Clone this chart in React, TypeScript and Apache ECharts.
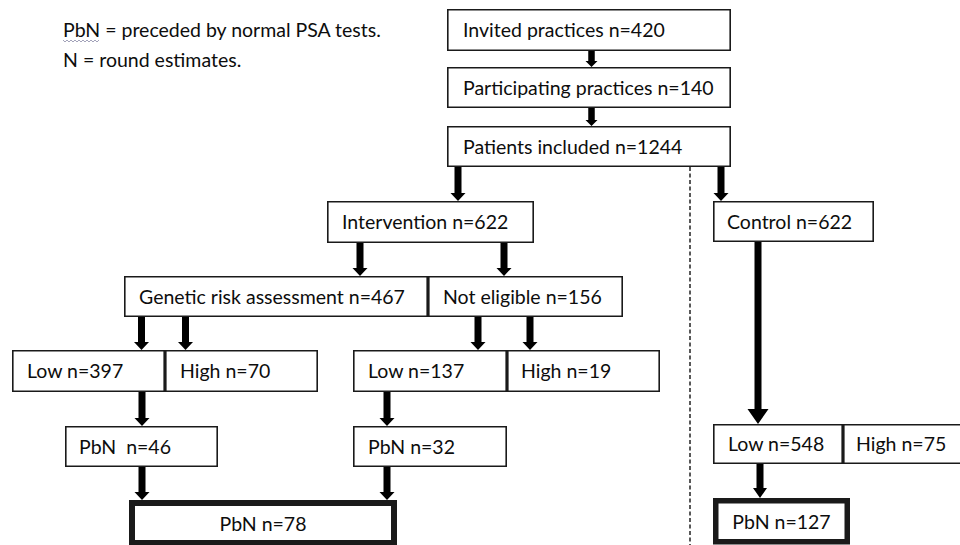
import React, { useEffect, useRef } from "react";
import * as echarts from "echarts";

// ---- data ----
const stageNames = [
  "Invited practices",
  "Participating practices",
  "Patients included",
  "Intervention",
  "Control",
  "Genetic risk assessment",
  "Not eligible",
  "Low",
  "High",
  "Low",
  "High",
  "PbN ",
  "PbN",
  "PbN",
  "Low",
  "High",
  "PbN",
];
const stageCounts = [420, 140, 1244, 622, 622, 467, 156, 397, 70, 137, 19, 46, 32, 78, 548, 75, 127];
const notes = ["PbN = preceded by normal PSA tests.", "N = round estimates."];
// flow edges [from, to]
const edges = [
  [0, 1], [1, 2], [2, 3], [2, 4], [3, 5], [3, 6], [5, 7], [5, 8],
  [6, 9], [6, 10], [7, 11], [9, 12], [11, 13], [12, 13], [4, 14], [14, 16],
];

// ---- layout (positions / sizes) ----
// [x0, y0, x1, y1, textX (-1 = centred), borderWidth]
const boxLayout = [
  [447, 9, 731, 51, 463, 1.6],
  [447, 67, 731, 108, 463, 1.6],
  [447, 126, 731, 167, 463, 1.6],
  [327, 201, 534, 243, 342, 1.6],
  [713, 201, 874, 242, 727, 1.6],
  [124, 276, 428, 317, 139, 1.6],
  [428, 276, 623, 317, 443, 1.6],
  [12, 350, 165, 392, 27, 1.6],
  [165, 350, 318, 392, 180, 1.6],
  [353, 350, 507, 392, 368, 1.6],
  [507, 350, 660, 392, 521, 1.6],
  [65, 426, 218, 467, 79, 1.6],
  [353, 426, 507, 467, 368, 1.6],
  [129, 500, 397, 546, -1, 6],
  [713, 424, 843, 464, 728, 1.6],
  [843, 424, 968, 464, 856, 1.6],
  [713, 498, 850, 544.5, -1, 5.5],
];
// per edge: [x, y0, y1, shaftWidth, headWidth, headLength]
const arrowLayout = [
  [591.5, 51, 67, 6.5, 12, 6],
  [591.5, 108, 126, 6.5, 12, 6],
  [458, 167, 201, 7, 15, 8],
  [721, 167, 201, 7, 15, 8],
  [360, 243, 276, 7, 15, 8],
  [504, 243, 276, 7, 15, 8],
  [141.5, 317, 350, 7, 15, 8],
  [185.5, 317, 350, 7, 15, 8],
  [478, 317, 350, 7, 15, 8],
  [530, 317, 350, 7, 15, 8],
  [142, 392, 426, 7, 15, 8],
  [387, 392, 426, 7, 15, 8],
  [142, 467, 500, 7, 15, 8],
  [387, 467, 500, 7, 15, 8],
  [758, 242, 424, 7, 21, 15],
  [760, 464, 498, 7, 14, 10],
];
const dividerLine = [[690, 167], [690, 545]];
const notePos = [[63, 29], [63, 59]];

const FONT = "Lato, 'Open Sans', sans-serif";
const FS = 19.5;
const INK = "#0d0d0d";

export default function App() {
  const ref = useRef<HTMLDivElement>(null);
  useEffect(() => {
    const chart = echarts.init(ref.current!, undefined, { renderer: "svg" });
    const labels = stageNames.map((n, i) => `${n} n=${stageCounts[i]}`);

    const option: any = {
      animation: false,
      backgroundColor: "#fff",
      grid: { left: 0, right: 0, top: 0, bottom: 0 },
      xAxis: { type: "value", min: 0, max: 960, show: false },
      yAxis: { type: "value", min: 0, max: 545, inverse: true, show: false },
      graphic: [
        ...notes.map((t, i) => ({
          type: "text",
          x: notePos[i][0],
          y: notePos[i][1],
          style: {
            text: t,
            fill: INK,
            fontSize: FS,
            fontFamily: FONT,
            align: "left",
            verticalAlign: "middle",
          },
        })),
        {
          type: "polyline",
          shape: {
            points: Array.from({ length: 19 }, (_, k) => [63 + k * 2, k % 2 === 0 ? 40 : 42]),
          },
          style: { stroke: "#8c8ca8", lineWidth: 0.8, fill: "none" },
        },
      ],
      series: [
        {
          type: "line",
          data: dividerLine,
          symbol: "none",
          lineStyle: { color: "#222", width: 1.5, type: [4, 2.5] },
          silent: true,
        },
        {
          type: "custom",
          silent: true,
          data: edges.map((e, i) => ({ value: arrowLayout[i].slice(0, 3), name: `${e[0]}-${e[1]}` })),
          renderItem: (params: any, api: any) => {
            const a = arrowLayout[params.dataIndex];
            const [x, y0, y1, sw, hw, hl] = a;
            const pts = [
              [x - sw / 2, y0],
              [x + sw / 2, y0],
              [x + sw / 2, y1 - hl],
              [x + hw / 2, y1 - hl],
              [x, y1],
              [x - hw / 2, y1 - hl],
              [x - sw / 2, y1 - hl],
            ].map((p) => api.coord(p));
            return { type: "polygon", shape: { points: pts }, style: { fill: "#000" } };
          },
          z: 3,
        },
        {
          type: "custom",
          silent: true,
          data: boxLayout.map((b, i) => ({ value: b.slice(0, 4), name: labels[i] })),
          renderItem: (params: any, api: any) => {
            const i = params.dataIndex;
            const [x0, y0, x1, y1, tx, bw] = boxLayout[i];
            const p0 = api.coord([x0, y0]);
            const p1 = api.coord([x1, y1]);
            const inset = bw / 2;
            const centred = tx < 0;
            const textX = centred ? (p0[0] + p1[0]) / 2 : api.coord([tx, y0])[0];
            const textY = (p0[1] + p1[1]) / 2 + (centred ? 0.5 : -0.5);
            return {
              type: "group",
              children: [
                {
                  type: "rect",
                  shape: {
                    x: p0[0] + inset,
                    y: p0[1] + inset,
                    width: p1[0] - p0[0] - bw,
                    height: p1[1] - p0[1] - bw,
                  },
                  style: { fill: "#fff", stroke: "#1a1a1a", lineWidth: bw },
                },
                {
                  type: "text",
                  style: {
                    text: labels[i],
                    x: textX,
                    y: textY,
                    fill: INK,
                    fontSize: FS,
                    fontFamily: FONT,
                    align: centred ? "center" : "left",
                    verticalAlign: "middle",
                  },
                },
              ],
            };
          },
          z: 2,
        },
      ],
    };
    chart.setOption(option);
    return () => chart.dispose();
  }, []);
  return (
    <div
      ref={ref}
      style={{ position: "fixed", left: 0, top: 0, width: 960, height: 545, background: "#fff" }}
    />
  );
}
